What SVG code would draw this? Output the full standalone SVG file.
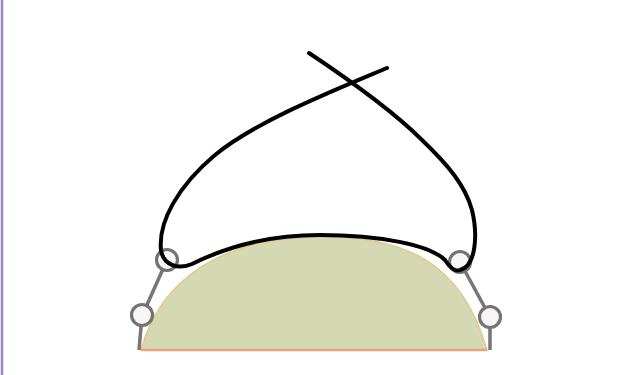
<svg xmlns="http://www.w3.org/2000/svg" width="628" height="375" viewBox="0 0 628 375">
<style>
.rod{stroke:#7b7474;stroke-width:3.5;fill:none;stroke-linecap:butt}
.joint{fill:#f6f6f6;stroke:#767272;stroke-width:3.2}
.cord{fill:none;stroke:#000;stroke-width:4;stroke-linecap:round;stroke-linejoin:round}
</style>
<rect width="628" height="375" fill="#fff"/>
<line x1="2" y1="0" x2="2" y2="375" stroke="#9a86c6" stroke-width="2.5"/>
<g id="dome">
<path d="M141,350 C160,280 220,240 310,237 C405,234 462,262 487,350 Z" fill="#d4d9b3" stroke="#e6c98e" stroke-width="1.5"/>
<line x1="141" y1="350" x2="487" y2="350" stroke="#eda27f" stroke-width="2.5"/>
</g>
<g id="connectors">
<polyline class="rod" points="139,350 142,316 167,260"/>
<polyline class="rod" points="490,350 490,317 460,262"/>
</g>
<g id="left-joints">
<circle class="joint" cx="142" cy="315" r="10.5"/>
<circle class="joint" cx="167" cy="260" r="10.5"/>
</g>
<g id="right-joints">
<circle class="joint" cx="490" cy="317" r="10.5"/>
<circle class="joint" cx="460" cy="262" r="10.5"/>
</g>
<g id="cord">
<path class="cord" d="M387,68 C330,92 255,122 215,155 C178,186 158,222 161,250 C163,265 178,270 192,264 C230,245 270,235 320,235 C380,235 430,245 445,260 C450,268 455,272 460,270 C476,266 478,235 472,210 C465,185 448,165 422,140 C397,115 360,87 309,53"/>
</g>
</svg>
